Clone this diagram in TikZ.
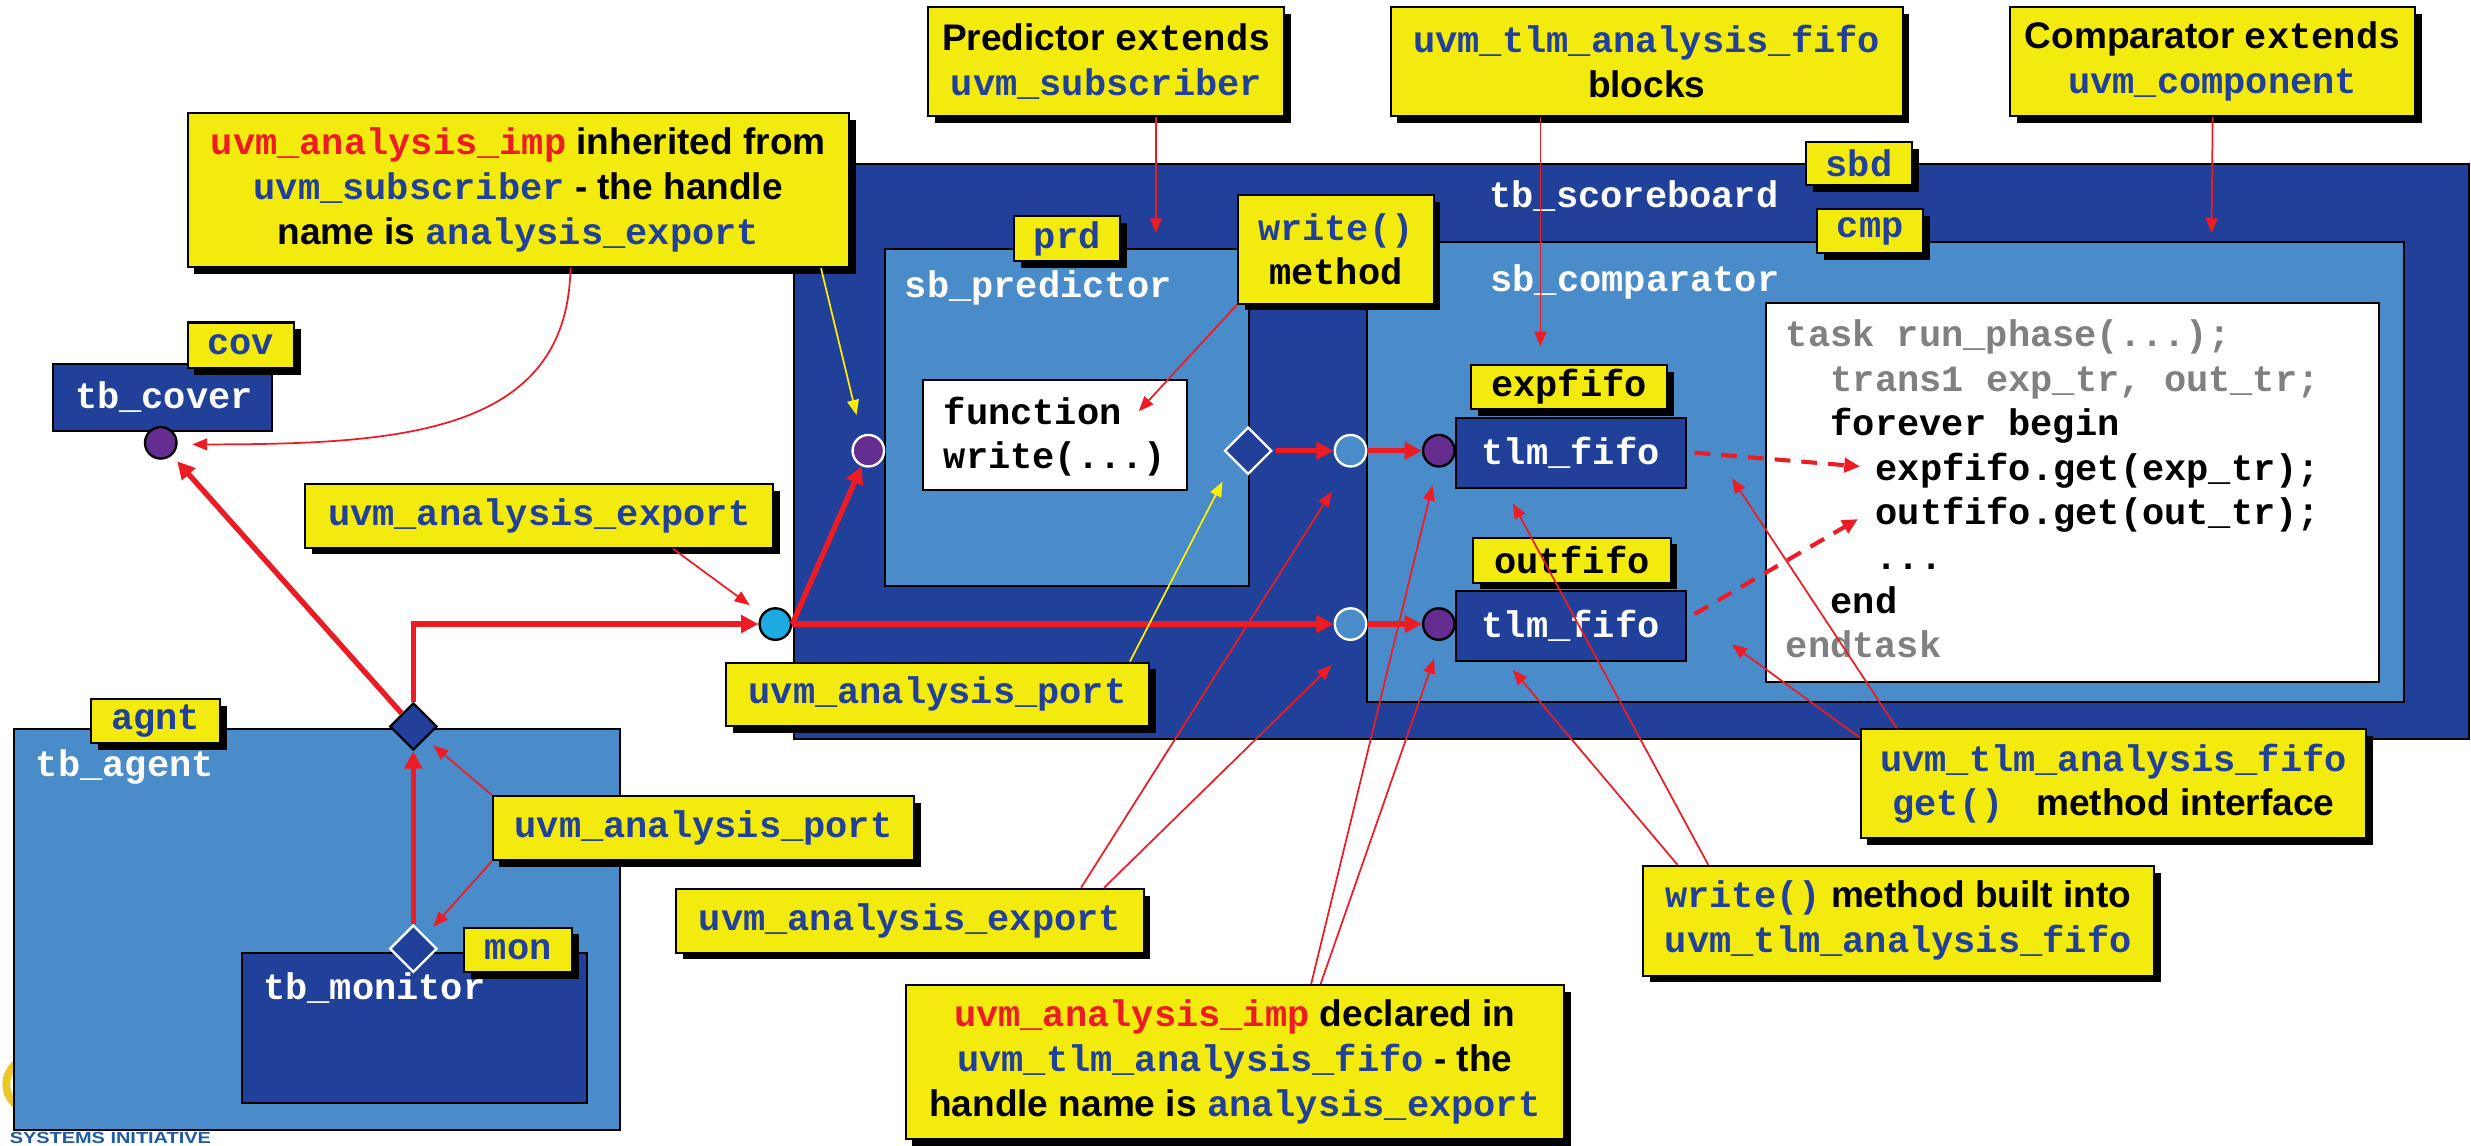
\documentclass[tikz,border=0pt]{standalone}
\usepackage{fontspec}
\setmainfont{Liberation Sans}
\setsansfont{Liberation Sans}
\setmonofont{Liberation Mono}
\usetikzlibrary{arrows.meta,shapes.geometric,shadows,calc}
\definecolor{db}{RGB}{33,64,154}
\definecolor{lb}{RGB}{74,139,201}
\definecolor{yel}{RGB}{243,235,13}
\definecolor{rd}{RGB}{237,28,36}
\definecolor{pur}{RGB}{102,45,145}
\definecolor{cy}{RGB}{27,170,225}
\definecolor{codegray}{RGB}{128,128,128}
\definecolor{yarrow}{RGB}{255,240,0}
\definecolor{logoy}{RGB}{235,200,40}
\definecolor{logob}{RGB}{30,90,165}
\newcommand\fsz{\fontsize{23.5}{28.5}\selectfont}
\newcommand\monoB[1]{{\ttfamily\bfseries\color{db}#1}}
\newcommand\monoR[1]{{\ttfamily\bfseries\color{rd}#1}}
\newcommand\monoK[1]{{\ttfamily\bfseries\color{black}#1}}
\tikzset{
  cont/.style={draw=black, line width=1.3pt, inner sep=0pt, anchor=north west},
  callout/.style={draw=black, line width=1.3pt, fill=yel, inner sep=0pt, anchor=north west, align=center, font=\sffamily\bfseries\fsz, drop shadow={shadow xshift=4.3pt, shadow yshift=-4.3pt, fill=black, draw=none, opacity=1}},
  tag/.style={callout, font=\ttfamily\bfseries\fsz, text=db},
  title/.style={inner sep=0pt, anchor=west, font=\ttfamily\bfseries\fsz, text=white, text height=15pt, text depth=0pt},
  codeline/.style={title, text=black},
  port/.style={circle, minimum size=20pt, inner sep=0pt, line width=1.5pt},
  dia/.style={diamond, aspect=1, minimum width=30pt, minimum height=30pt, inner sep=0pt, line width=1.5pt, fill=db},
  redthick/.style={draw=rd, line width=3.4pt, -{Triangle[length=11pt,width=11pt]}},
  redthin/.style={draw=rd, line width=1.1pt, -{Triangle[length=9.5pt,width=7.5pt]}},
  yelthin/.style={draw=yarrow, line width=1.1pt, -{Triangle[length=9.5pt,width=7.5pt]}},
  reddash/.style={draw=rd, line width=2.6pt, dash pattern=on 10pt off 7pt, -{Triangle[length=10pt,width=9pt]}},
}
\begin{document}
\begin{tikzpicture}[x=1pt,y=-1pt]
\useasboundingbox (0,0) rectangle (1568,727);
% logo fragment
\begin{scope}
\clip (0,0) rectangle (1568,727);
\draw[logoy, line width=5pt] (21,688) circle (17pt);
\end{scope}
\node[anchor=base west, inner sep=0pt, font=\sffamily\bfseries\fontsize{10.2}{12}\selectfont, text=logob] (logo) at (6,725.6) {\scalebox{1.24}[1]{SYSTEMS INITIATIVE}};
% agent
\node[cont, fill=lb, minimum width=385pt, minimum height=254.5pt] (agent) at (8,462) {};
\node[tag, minimum width=82pt, minimum height=28pt] (agnt) at (57,443) {agnt};
\node[title] (agentT) at (22.6,485.4) {tb\_agent};
\node[cont, fill=db, minimum width=219pt, minimum height=95pt] (mon) at (153,604) {};
\node[title] (monT) at (166.8,627) {tb\_monitor};
\node[tag, minimum width=68.5pt, minimum height=28pt] (monL) at (294,588) {mon};
\node[dia, draw=white] (mondia) at (262.3,602) {};
\node[dia, draw=black] (agentdia) at (262.3,461) {};
% cover
\node[cont, fill=db, minimum width=139pt, minimum height=42.5pt] (cover) at (33,230.5) {};
\node[title] (coverT) at (47.4,251.7) {tb\_cover};
\node[tag, minimum width=67.5pt, minimum height=28.7pt] (cov) at (118.4,204) {cov};
\node[port, draw=black, fill=pur] (P0) at (102,281) {};
% scoreboard
\node[cont, fill=db, minimum width=1063pt, minimum height=364.8pt] (sb) at (503,103.2) {};
\node[title] (sbT) at (945,124) {tb\_scoreboard};
\node[tag, minimum width=67.3pt, minimum height=27.7pt] (sbd) at (1145.3,89.3) {sbd};
\node[cont, fill=lb, minimum width=231pt, minimum height=213.4pt] (pred) at (561,157.6) {};
\node[title] (predT) at (574,181) {sb\_predictor};
\node[tag, minimum width=67pt, minimum height=28.6pt] (prd) at (643,136.4) {prd};
\node[cont, fill=white, minimum width=167.6pt, minimum height=69.6pt] (func) at (585,240.7) {};
\node[codeline] (f1) at (598.7,262) {function};
\node[codeline] (f2) at (598.7,290) {write(...)};
\node[port, draw=white, fill=pur] (ppur) at (551,286) {};
\node[dia, draw=white] (pdia) at (792,286) {};
\node[cont, fill=lb, minimum width=658pt, minimum height=292.3pt] (comp) at (867,152.7) {};
\node[title] (compT) at (945.6,177.7) {sb\_comparator};
\node[tag, minimum width=67.5pt, minimum height=27.8pt] (cmp) at (1152.3,132.2) {cmp};
\node[port, draw=white, fill=lb] (lbc1) at (857,286) {};
\node[port, draw=white, fill=lb] (lbc2) at (857,396) {};
\node[port, draw=black, fill=pur] (pur1) at (913,286) {};
\node[port, draw=black, fill=pur] (pur2) at (913,396) {};
\node[tag, text=black, minimum width=124pt, minimum height=28pt] (expf) at (933,231) {expfifo};
\node[cont, fill=db, text=white, font=\ttfamily\bfseries\fsz, minimum width=146pt, minimum height=44.4pt] (tlm1) at (923,264.4) {tlm\_fifo};
\node[tag, text=black, minimum width=125.5pt, minimum height=28.5pt] (outf) at (934,340.5) {outfifo};
\node[cont, fill=db, text=white, font=\ttfamily\bfseries\fsz, minimum width=146pt, minimum height=44.4pt] (tlm2) at (923,374.4) {tlm\_fifo};
\node[cont, fill=white, minimum width=389pt, minimum height=241pt] (code) at (1120,191.4) {};
\node[codeline, text=codegray] (c1) at (1133,212.6) {task run\_phase(...);};
\node[codeline, text=codegray] (c2) at (1161.5,240.8) {trans1 exp\_tr, out\_tr;};
\node[codeline] (c3) at (1161.5,269) {forever begin};
\node[codeline] (c4) at (1190,297.2) {expfifo.get(exp\_tr);};
\node[codeline] (c5) at (1190,325.4) {outfifo.get(out\_tr);};
\node[codeline] (c6) at (1190,353.6) {...};
\node[codeline] (c7) at (1161.5,381.8) {end};
\node[codeline, text=codegray] (c8) at (1133,410) {endtask};
\node[port, draw=black, fill=cy] (cyan) at (492,396) {};
% thick connectors
\draw[redthick, shorten >=5pt] (agentdia) -- (P0);
\draw[redthick] (mondia.north) -- (agentdia.south);
\draw[redthick] (agentdia.north) |- (cyan.west);
\draw[redthick] (cyan.east) -- (ppur);
\draw[redthick] (cyan.east) -- (lbc2.west);
\draw[redthick, shorten <=2pt] (pdia.east) -- (lbc1.west);
\draw[redthick] (lbc1.east) -- (pur1.west);
\draw[redthick] (lbc2.east) -- (pur2.west);
% callouts
\node[callout, minimum width=419.6pt, minimum height=98pt] (cA) at (118.4,70.9)
  {\monoR{uvm\_analysis\_imp} inherited from\\ \monoB{uvm\_subscriber} - the handle\\ name is \monoB{analysis\_export}};
\node[callout, minimum width=225.9pt, minimum height=69.2pt] (cPred) at (588.5,3.8)
  {Predictor \monoK{extends}\\ \monoB{uvm\_subscriber}};
\node[callout, minimum width=324.9pt, minimum height=69.2pt] (cBlocks) at (881.8,3.8)
  {\monoB{uvm\_tlm\_analysis\_fifo}\\ blocks};
\node[callout, minimum width=256.8pt, minimum height=69.2pt] (cComp) at (1275,3.8)
  {Comparator \monoK{extends}\\ \monoB{uvm\_component}};
\node[callout, minimum width=124pt, minimum height=69pt] (cWrite) at (785,123)
  {\monoB{write()}\\ \monoK{method}};
\node[callout, minimum width=297pt, minimum height=40.3pt] (cExpL) at (193,306.6)
  {\monoB{uvm\_analysis\_export}};
\node[callout, minimum width=268.5pt, minimum height=40.2pt] (cPortM) at (460,419.8)
  {\monoB{uvm\_analysis\_port}};
\node[callout, minimum width=267.5pt, minimum height=40.9pt] (cPortA) at (312,504.4)
  {\monoB{uvm\_analysis\_port}};
\node[callout, minimum width=296.4pt, minimum height=40.6pt] (cExpB) at (428.6,563.3)
  {\monoB{uvm\_analysis\_export}};
\node[callout, minimum width=417.8pt, minimum height=97.6pt] (cImp) at (574,624.4)
  {\monoR{uvm\_analysis\_imp} declared in\\ \monoB{uvm\_tlm\_analysis\_fifo} - the\\ handle name is \monoB{analysis\_export}};
\node[callout, minimum width=321pt, minimum height=69.3pt] (cGet) at (1180,462)
  {\monoB{uvm\_tlm\_analysis\_fifo}\\ \monoB{get()~} method interface};
\node[callout, minimum width=324.2pt, minimum height=69.7pt] (cBuilt) at (1041.8,548.8)
  {\monoB{write()} method built into\\ \monoB{uvm\_tlm\_analysis\_fifo}};
% tip coordinates
\coordinate (tipP0) at (122,282);
\coordinate (tipPP) at (543.5,263.3);
\coordinate (tipPred) at (733.5,148);
\coordinate (tipBlocks) at (977.5,220);
\coordinate (tipComp) at (1403.4,148);
\coordinate (tipFunc) at (722.6,261);
\coordinate (tipCy) at (475.7,384);
\coordinate (tipPdia) at (775.8,305.6);
\coordinate (tipAdia) at (275,473);
\coordinate (tipMdia) at (275,588);
\coordinate (tipL1) at (845,312);
\coordinate (tipL2) at (845,422);
\coordinate (tipP1) at (909,308);
\coordinate (tipP2) at (910,418);
\coordinate (tipT1) at (960,319.4);
\coordinate (tipT2) at (960,425);
\coordinate (tipG1) at (1099,303.5);
\coordinate (tipG2) at (1099,409);
\coordinate (tipE) at (1180.3,296);
\coordinate (tipO) at (1179,329.4);
% thin connectors
\draw[redthin] ($(cA.south west)+(243.6,0)$) .. controls (360,275) and (255,282) .. (tipP0);
\draw[yelthin] ($(cA.south west)+(402.6,0)$) -- (tipPP);
\draw[redthin] ($(cPred.south west)+(145,0)$) -- (tipPred);
\draw[redthin] ($(cBlocks.south west)+(95.7,0)$) -- (tipBlocks);
\draw[redthin] (cComp.south) -- (tipComp);
\draw[redthin] (cWrite.south west) -- (tipFunc);
\draw[redthin] ($(cExpL.south west)+(234,0)$) -- (tipCy);
\draw[yelthin] ($(cPortM.north west)+(257,0)$) -- (tipPdia);
\draw[redthin] (cPortA.north west) -- (tipAdia);
\draw[redthin] (cPortA.south west) -- (tipMdia);
\draw[redthin] ($(cExpB.north west)+(257.4,0)$) -- (tipL1);
\draw[redthin] ($(cExpB.north west)+(272,0)$) -- (tipL2);
\draw[redthin] ($(cImp.north west)+(258,0)$) -- (tipP1);
\draw[redthin] ($(cImp.north west)+(264,0)$) -- (tipP2);
\draw[redthin] ($(cBuilt.north west)+(42.2,0)$) -- (tipT1);
\draw[redthin] ($(cBuilt.north west)+(22.7,0)$) -- (tipT2);
\draw[redthin] ($(cGet.north west)+(23.6,0)$) -- (tipG1);
\draw[redthin] ($(cGet.north west)+(0,6)$) -- (tipG2);
% dashed
\draw[reddash] ($(tlm1.east)+(5,0)$) -- (tipE);
\draw[reddash] ($(tlm2.east)+(5,-7.6)$) -- (tipO);
\end{tikzpicture}
\end{document}
